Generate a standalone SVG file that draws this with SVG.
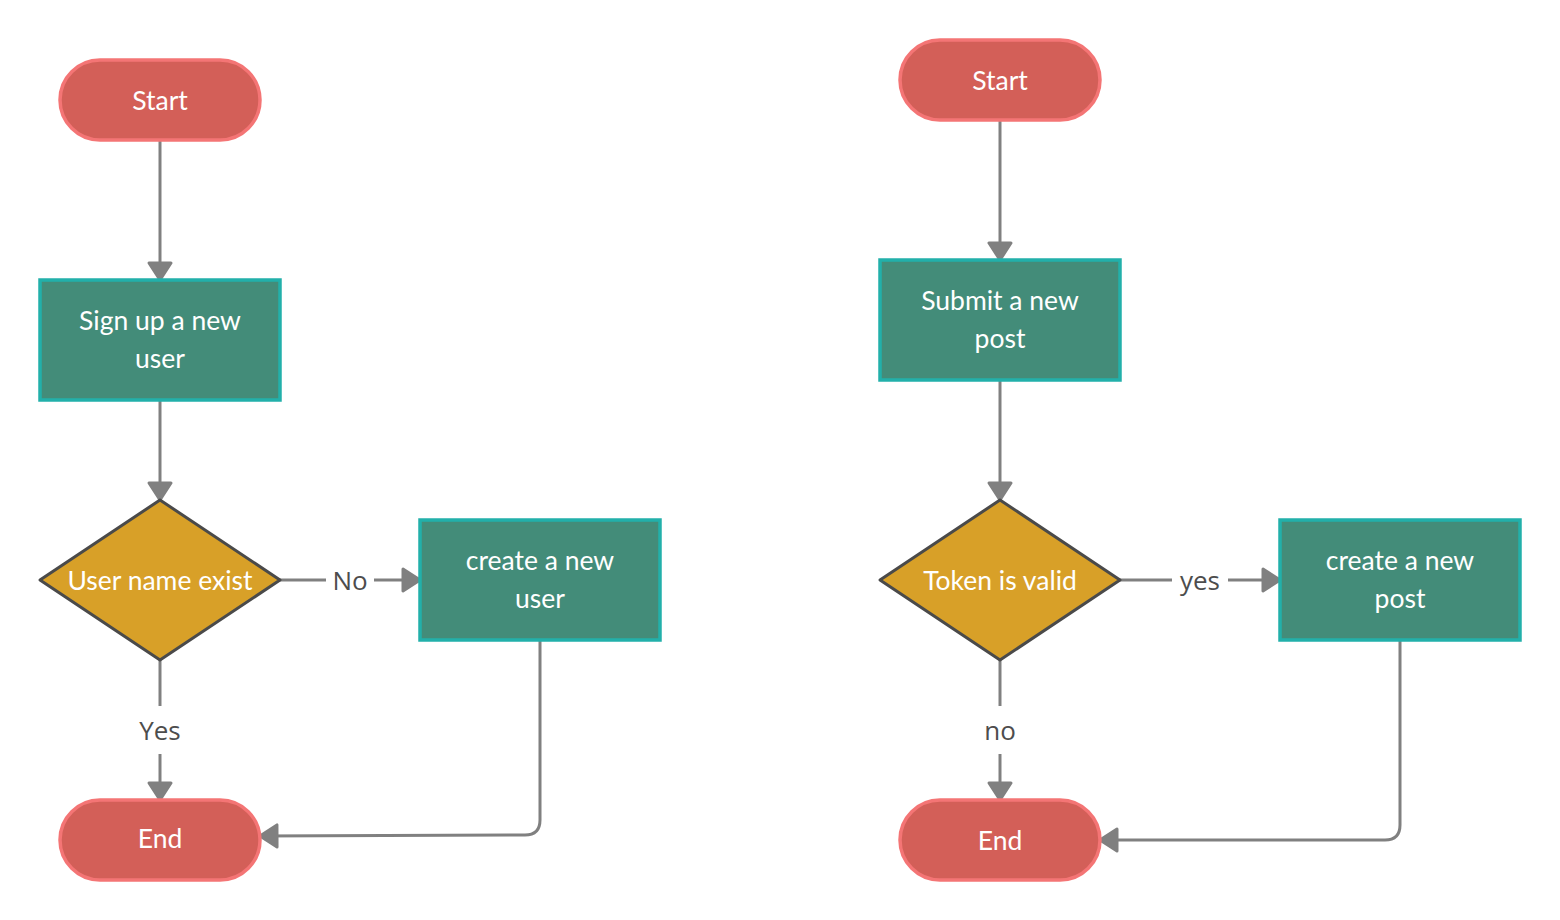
<svg xmlns="http://www.w3.org/2000/svg" width="1560" height="920" viewBox="0 0 1560 920">
  <defs>
    <marker id="arrow" markerUnits="userSpaceOnUse" markerWidth="24" markerHeight="30" refX="19" refY="13" orient="auto" overflow="visible">
      <path d="M2,2 L19,13 L2,24 Z" fill="#808080" stroke="#808080" stroke-width="3" stroke-linejoin="round"/>
    </marker>
    <style>
      .term { fill: #d35f58; stroke: #f47575; stroke-width: 3.5; }
      .proc { fill: #438c79; stroke: #22b0aa; stroke-width: 3.5; }
      .dec { fill: #d8a028; stroke: #4a4a4a; stroke-width: 3; stroke-linejoin: round; }
      .node-text { font-family: Lato, "Liberation Sans", sans-serif; font-size: 26.5px; fill: #ffffff; text-anchor: middle; dominant-baseline: central; }
      .edge { fill: none; stroke: #808080; stroke-width: 3; }
      .edge-label { font-family: "Open Sans", "Liberation Sans", sans-serif; font-size: 26px; fill: #4d4d4d; text-anchor: middle; dominant-baseline: central; }
    </style>
  </defs>

  <rect width="1560" height="920" fill="#ffffff"/>

  <!-- connectors -->
  <g id="connectors">
    <!-- left flow -->
    <path class="edge" d="M160,140 L160,280" marker-end="url(#arrow)"/>
    <path class="edge" d="M160,400 L160,500" marker-end="url(#arrow)"/>
    <path class="edge" d="M280,580 L326,580"/>
    <path class="edge" d="M374,580 L420,580" marker-end="url(#arrow)"/>
    <text class="edge-label" x="350" y="580">No</text>
    <path class="edge" d="M160,660 L160,706"/>
    <path class="edge" d="M160,754 L160,800" marker-end="url(#arrow)"/>
    <text class="edge-label" x="160" y="730">Yes</text>
    <path class="edge" d="M540,640 L540,820 Q540,835 525,835 L260,836" marker-end="url(#arrow)"/>

    <!-- right flow -->
    <path class="edge" d="M1000,120 L1000,260" marker-end="url(#arrow)"/>
    <path class="edge" d="M1000,380 L1000,500" marker-end="url(#arrow)"/>
    <path class="edge" d="M1120,580 L1172,580"/>
    <path class="edge" d="M1228,580 L1280,580" marker-end="url(#arrow)"/>
    <text class="edge-label" x="1200" y="580">yes</text>
    <path class="edge" d="M1000,660 L1000,706"/>
    <path class="edge" d="M1000,754 L1000,800" marker-end="url(#arrow)"/>
    <text class="edge-label" x="1000" y="730">no</text>
    <path class="edge" d="M1400,640 L1400,825 Q1400,840 1385,840 L1100,840" marker-end="url(#arrow)"/>
  </g>

  <!-- left flow nodes -->
  <g id="start-left">
    <rect class="term" x="60" y="60" width="200" height="80" rx="40" ry="40"/>
    <text class="node-text" x="160" y="100">Start</text>
  </g>
  <g id="signup">
    <rect class="proc" x="40" y="280" width="240" height="120"/>
    <text class="node-text" x="160" y="320">Sign up a new</text>
    <text class="node-text" x="160" y="358">user</text>
  </g>
  <g id="username-exist">
    <polygon class="dec" points="160,500 280,580 160,660 40,580"/>
    <text class="node-text" x="160" y="580">User name exist</text>
  </g>
  <g id="create-user">
    <rect class="proc" x="420" y="520" width="240" height="120"/>
    <text class="node-text" x="540" y="560">create a new</text>
    <text class="node-text" x="540" y="598">user</text>
  </g>
  <g id="end-left">
    <rect class="term" x="60" y="800" width="200" height="80" rx="40" ry="40"/>
    <text class="node-text" x="160" y="838">End</text>
  </g>

  <!-- right flow nodes -->
  <g id="start-right">
    <rect class="term" x="900" y="40" width="200" height="80" rx="40" ry="40"/>
    <text class="node-text" x="1000" y="80">Start</text>
  </g>
  <g id="submit-post">
    <rect class="proc" x="880" y="260" width="240" height="120"/>
    <text class="node-text" x="1000" y="300">Submit a new</text>
    <text class="node-text" x="1000" y="338">post</text>
  </g>
  <g id="token-valid">
    <polygon class="dec" points="1000,500 1120,580 1000,660 880,580"/>
    <text class="node-text" x="1000" y="580">Token is valid</text>
  </g>
  <g id="create-post">
    <rect class="proc" x="1280" y="520" width="240" height="120"/>
    <text class="node-text" x="1400" y="560">create a new</text>
    <text class="node-text" x="1400" y="598">post</text>
  </g>
  <g id="end-right">
    <rect class="term" x="900" y="800" width="200" height="80" rx="40" ry="40"/>
    <text class="node-text" x="1000" y="840">End</text>
  </g>
</svg>
